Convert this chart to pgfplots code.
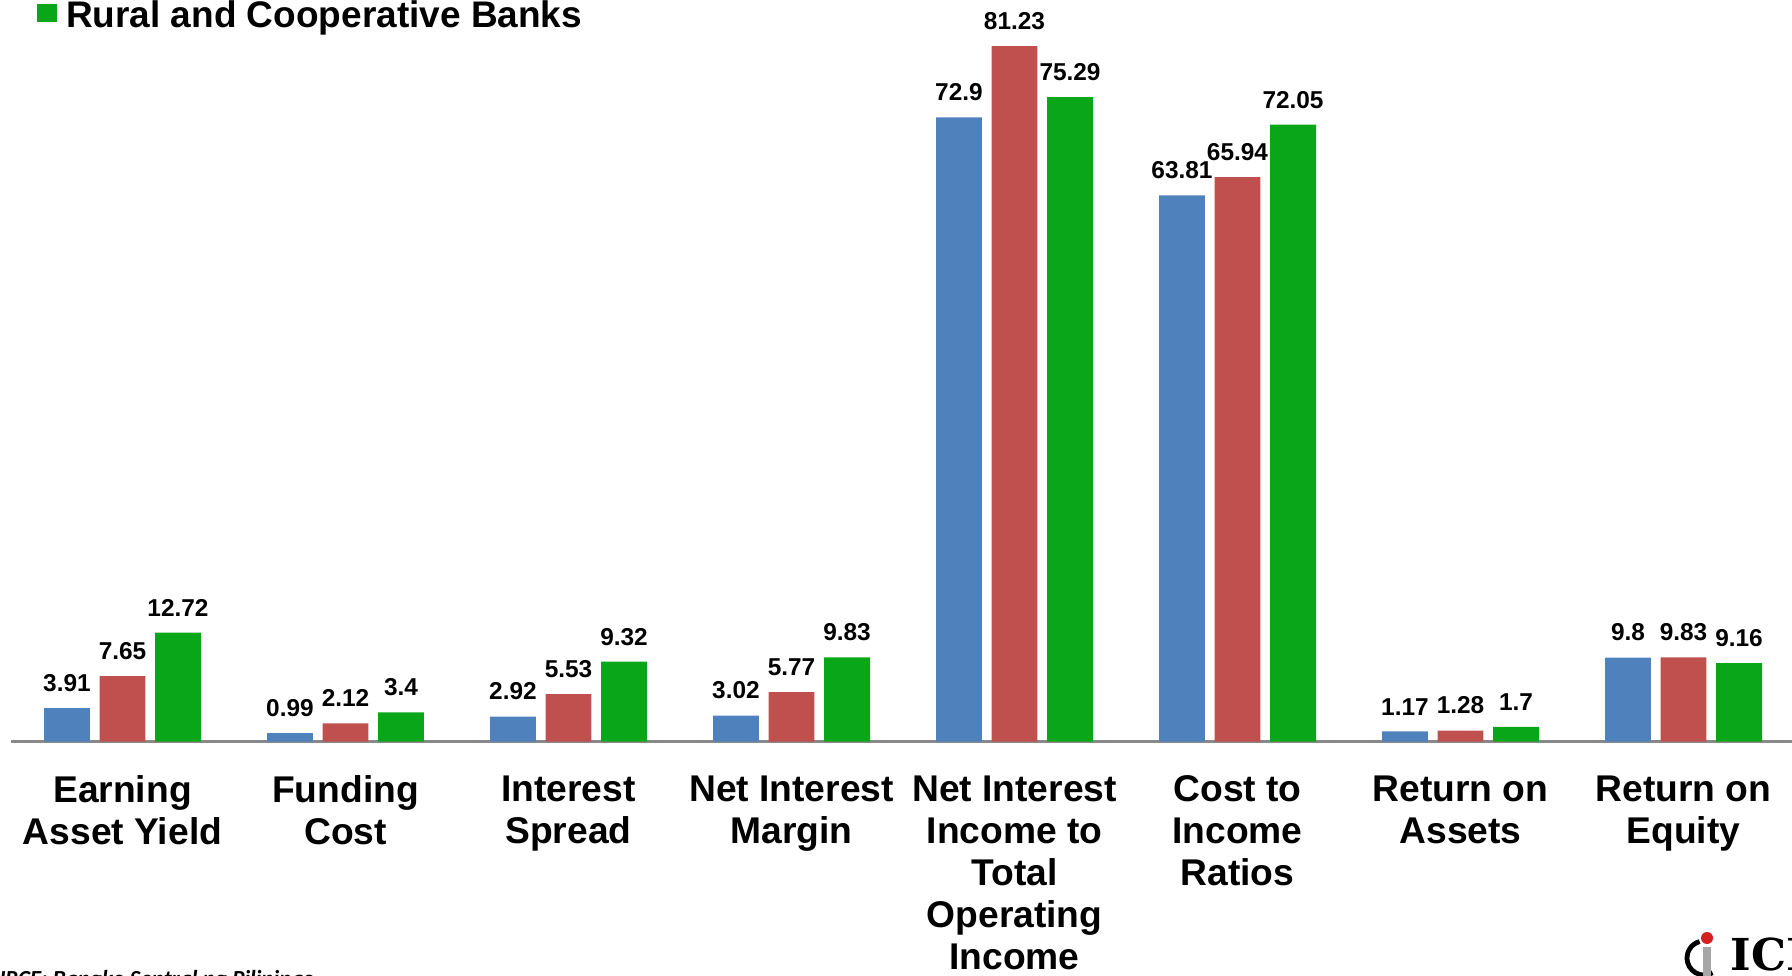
\documentclass[border=0pt]{standalone}
\usepackage{fontspec}
\setmainfont{Liberation Sans}
\newfontfamily\srcfont{Carlito}
\newfontfamily\logofont{DejaVu Serif}
\usepackage{pgfplots}
\pgfplotsset{compat=1.18}
\definecolor{cblue}{HTML}{4F81BD}
\definecolor{cred}{HTML}{C0504D}
\definecolor{cgreen}{HTML}{0AA61A}
\definecolor{caxis}{HTML}{898989}
\definecolor{logored}{HTML}{D42020}
\begin{document}
\begin{tikzpicture}
\useasboundingbox (0,0) rectangle (896pt,487.5pt);
\begin{scope}
\clip (0,0) rectangle (896pt,487.5pt);
\begin{axis}[
  at={(5.5pt,116.75pt)}, anchor=south west,
  scale only axis, width=892pt, height=428pt,
  xmin=-0.5, xmax=7.5, ymin=0, ymax=100,
  axis x line*=bottom, axis y line=none,
  y axis line style={draw=none},
  x axis line style={draw=caxis, line width=1.3pt, -},
  xtick={0,...,7},
  xticklabels={{Earning\\Asset Yield},{Funding\\Cost},{Interest\\Spread},{Net Interest\\Margin},{Net Interest\\Income to\\Total\\Operating\\Income},{Cost to\\Income\\Ratios},{Return on\\Assets},{Return on\\Equity}},
  xtick style={draw=none}, ytick=\empty,
  xticklabel style={align=center, font=\fontsize{18.6}{21}\selectfont\bfseries, inner sep=0pt, anchor=north, yshift=-12.5pt},
  ybar, bar width=0.206,
  nodes near coords,
  every node near coord/.append style={font=\fontsize{12.2}{14}\selectfont\bfseries, inner sep=0pt, yshift=8pt, text=black},
  /pgf/number format/assume math mode=true, /pgf/number format/precision=2,
  legend style={draw=none, fill=none, inner sep=0pt, outer sep=0pt,
    at={(axis description cs:0.0143,0.8311)}, anchor=south west,
    nodes={inner sep=0pt}, column sep=4.5pt},
]
\addplot[fill=cblue, draw=none, bar shift=-0.249, forget plot] coordinates {(0,3.91) (1,0.99) (2,2.92) (3,3.02) (4,72.9) (5,63.81) (6,1.17) (7,9.8)};
\addplot[fill=cred, draw=none, bar shift=0, forget plot] coordinates {(0,7.65) (1,2.12) (2,5.53) (3,5.77) (4,81.23) (5,65.94) (6,1.28) (7,9.83)};
\addplot[fill=cgreen, draw=none, bar shift=0.249,
  legend image code/.code={\fill[cgreen] (0pt,-3.5pt) rectangle (10.3pt,5.65pt);}] coordinates {(0,12.72) (1,3.4) (2,9.32) (3,9.83) (4,75.29) (5,72.05) (6,1.7) (7,9.16)};
\addlegendentry{\fontsize{18.5}{21}\selectfont\bfseries Rural and Cooperative Banks}
\end{axis}
\node[anchor=north east, inner sep=0pt, font=\srcfont\fontsize{11.5}{13}\selectfont\bfseries\itshape] at (156.5pt,2.5pt) {SOURCE: Bangko Sentral ng Pilipinas};
\draw[black, line width=2.4pt] (852pt,8.5pt) ++(105:8.5pt) arc[start angle=105, end angle=300, radius=8.5pt];
\draw[gray!70, line width=4pt] (853.5pt,14pt) -- (853.5pt,-2pt);
\fill[logored] (853.5pt,18.5pt) circle (3pt);
\node[anchor=north west, inner sep=0pt, font=\logofont\fontsize{22}{26}\selectfont\bfseries] at (865pt,19pt) {ICI};
\end{scope}
\end{tikzpicture}
\end{document}
